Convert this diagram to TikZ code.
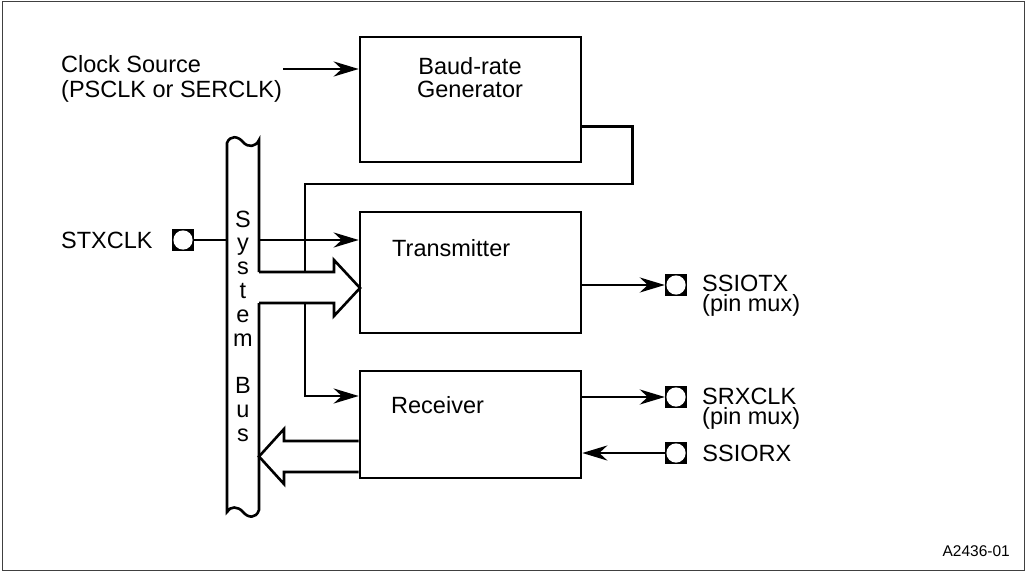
\documentclass[tikz,border=0pt]{standalone}
\usepackage{fontspec}
\setmainfont{Liberation Sans}
\usepackage{tikz}
\usetikzlibrary{positioning}
\usetikzlibrary{calc}
\usetikzlibrary{arrows.meta}

\begin{document}
\begin{tikzpicture}[x=1pt, y=-1pt,
    wire/.style={line width=2.6pt},
    sig/.style={wire, -{Stealth[length=25pt, width=15pt, inset=8pt]}},
    block/.style={draw, line width=2.6pt, minimum width=221pt, inner sep=0pt},
    lbl/.style={font=\fontsize{23.5}{24}\selectfont, inner sep=0pt},
    padbox/.style={rectangle, fill=black, minimum size=22pt, inner sep=0pt,
        path picture={\fill[white] (path picture bounding box.center) circle (9.6pt);}},
    ]
    \useasboundingbox (0,0) rectangle (1027,572);
    \draw[black!75, line width=1.5pt] (2.5,1.5) rectangle (1024.5,570.5);

    % blocks
    \node[block, minimum height=125pt] (brg) at (470.5,99.5) {};
    \node[block, minimum height=121pt] (tx) at (470.5,272.5) {};
    \node[block, minimum height=107pt] (rx) at (470.5,424.5) {};

    \node[lbl, align=center, anchor=north, font=\fontsize{23.5}{23}\selectfont] (brgtxt) at (470,57) {Baud-rate\\Generator};
    \node[lbl, anchor=base west] (txtxt) at (392,256) {Transmitter};
    \node[lbl, anchor=base west] (rxtxt) at (391,413) {Receiver};

    % clock source
    \node[lbl, align=left, anchor=north west, font=\fontsize{23.5}{25}\selectfont] (clktxt) at (61,55) {Clock Source\\(PSCLK or SERCLK)};
    \coordinate (clkin) at (283,69);
    \draw[sig] (clkin) -- (clkin -| brg.west);

    % system bus
    \coordinate (busL) at (227,0);
    \coordinate (busR) at (259,0);
    \draw[wire] (259,272) -- (259,140)
        .. controls (256,147) and (248,148) .. (243,142)
        .. controls (238,136) and (230,135) .. (227,143) -- (227,512)
        .. controls (230,506) and (238,506) .. (243,512)
        .. controls (248,518) and (256,519) .. (259,510) -- (259,303);
    \foreach \ch [count=\i from 0] in {S,y,s,t,e,m,{},B,u,s}
        \node[lbl, anchor=base] (bus\i) at (243,227+23.8*\i) {\ch};

    % pins
    \node[padbox] (stx) at (183,240) {};
    \node[padbox] (ssiotx) at (676,285) {};
    \node[padbox] (srxclk) at (676,397) {};
    \node[padbox] (ssiorx) at (676,453) {};

    \node[lbl, left=19pt of stx] (stxtxt) {STXCLK};
    \node[lbl, align=left, anchor=north west, font=\fontsize{23.5}{20}\selectfont] (ssiotxtxt) at (702,275) {SSIOTX\\(pin mux)};
    \node[lbl, align=left, anchor=north west, font=\fontsize{23.5}{19.5}\selectfont] (srxclktxt) at (702,388) {SRXCLK\\(pin mux)};
    \node[lbl, right=15pt of ssiorx] (ssiorxtxt) {SSIORX};

    % clock paths
    \coordinate (txclk) at ([yshift=32.5pt]tx.west);
    \coordinate (rxclk) at ([yshift=28.5pt]rx.west);
    \coordinate (bo) at ([yshift=37pt]brg.south east);
    \draw[wire] (stx.east) -- (busL |- stx);
    \draw[sig] (busR |- txclk) -- (txclk);
    \draw[sig] (bo) -- ++(50,0) |- (305,184) |- (rxclk);

    % data paths
    \draw[wire, fill=white] (259,272) -- (334,272) -- (334,260) -- (360,288)
        -- (334,316) -- (334,303) -- (259,303);
    \draw[wire, fill=white] (358.7,441) -- (284,441) -- (284,429) -- (259,456.5)
        -- (284,484) -- (284,472) -- (358.7,472);

    \draw[sig] (ssiotx.west -| tx.east) -- (ssiotx.west);
    \draw[sig] (srxclk.west -| rx.east) -- (srxclk.west);
    \draw[sig] (ssiorx.west) -- (ssiorx.west -| rx.east);

    \node[font=\fontsize{15.5}{16}\selectfont, inner sep=0pt, anchor=base east] (figid) at (1010,556) {A2436-01};
\end{tikzpicture}
\end{document}
